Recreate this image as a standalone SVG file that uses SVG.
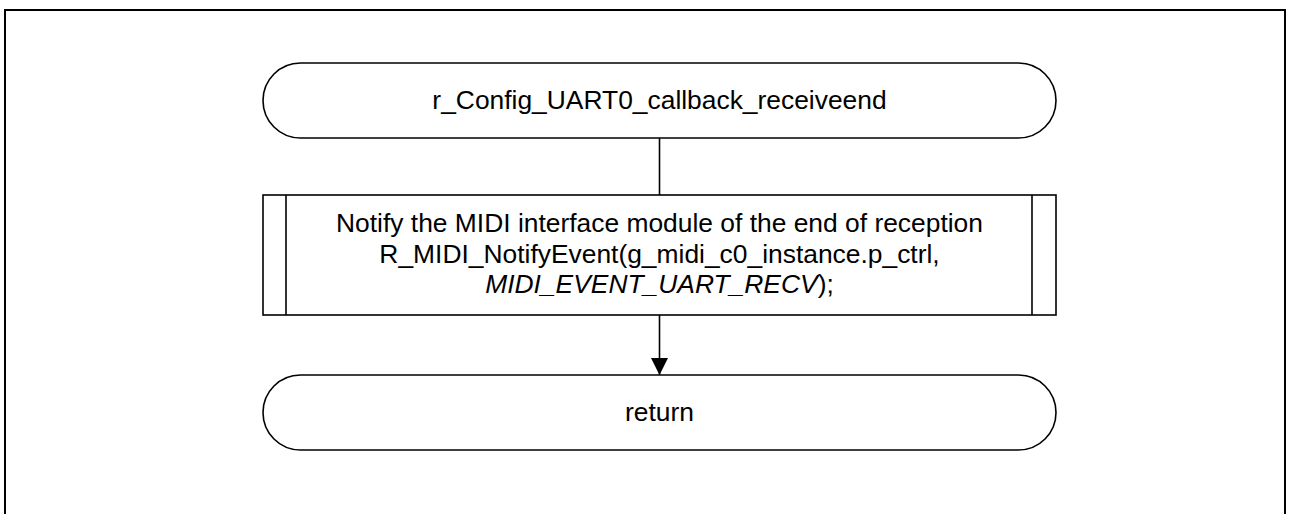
<svg xmlns="http://www.w3.org/2000/svg" width="1290" height="514" viewBox="0 0 1290 514">
<style>
.frame{fill:none;stroke:#000;stroke-width:2}
.shape{fill:#fff;stroke:#000;stroke-width:1.6}
.line{fill:none;stroke:#000;stroke-width:1.6}
text{font-family:"Liberation Sans",Arial,sans-serif;font-size:26.4px;fill:#000;text-anchor:middle}
</style>
<defs>
<marker id="arrow" viewBox="0 0 17 17" refX="17" refY="8.5" markerWidth="17" markerHeight="17" markerUnits="userSpaceOnUse" orient="auto">
<path d="M0,0 L17,8.5 L0,17 Z" fill="#000"/>
</marker>
</defs>
<rect x="0" y="0" width="1290" height="514" fill="#fff"/>
<rect class="frame" x="5" y="10" width="1280" height="520"/>
<g id="connectors">
<line class="line" x1="659.5" y1="138" x2="659.5" y2="195"/>
<line class="line" x1="659.5" y1="315" x2="659.5" y2="375" marker-end="url(#arrow)"/>
</g>
<g id="start">
<rect class="shape" x="263" y="63" width="793" height="75" rx="37.5" ry="37.5"/>
<text x="659.5" y="108.5">r_Config_UART0_callback_receiveend</text>
</g>
<g id="process">
<rect class="shape" x="263" y="195" width="793" height="120"/>
<line class="line" x1="286" y1="195" x2="286" y2="315"/>
<line class="line" x1="1032" y1="195" x2="1032" y2="315"/>
<text x="659.5" y="232">Notify the MIDI interface module of the end of reception</text>
<text x="659.5" y="262.5">R_MIDI_NotifyEvent(g_midi_c0_instance.p_ctrl,</text>
<text x="659.5" y="293"><tspan font-style="italic">MIDI_EVENT_UART_RECV</tspan>);</text>
</g>
<g id="end">
<rect class="shape" x="263" y="375" width="793" height="75" rx="37.5" ry="37.5"/>
<text x="659.5" y="420.5">return</text>
</g>
</svg>
